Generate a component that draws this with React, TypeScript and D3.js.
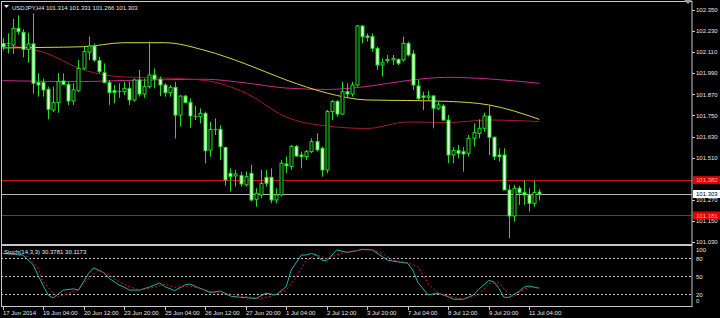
import React from 'react';
import * as d3 from 'd3';

const dateIdx = [0, 8, 16, 24, 32, 40, 48, 56, 64, 72, 80, 88, 96, 104];
const dateLabels = ['17 Jun 2014', '19 Jun 04:00', '20 Jun 12:00', '23 Jun 20:00', '25 Jun 04:00', '26 Jun 12:00', '27 Jun 20:00', '1 Jul 04:00', '2 Jul 12:00', '3 Jul 20:00', '7 Jul 04:00', '8 Jul 12:00', '9 Jul 20:00', '11 Jul 04:00'];
const priceTicks = [102.35, 102.23, 102.11, 101.99, 101.87, 101.75, 101.63, 101.51, 101.27, 101.15, 101.03];
const stochTicks = [100, 80, 50, 20, 0];
const stochLevels = [80, 50, 20];

const opens = [102.160,102.157,102.151,102.246,102.223,102.126,102.157,101.937,101.937,101.899,101.781,101.823,101.946,101.927,101.832,101.890,102.018,102.110,102.145,102.062,101.993,101.937,101.891,101.890,101.885,101.904,101.838,101.952,101.872,101.914,101.980,101.956,101.923,101.880,101.910,101.752,101.860,101.823,101.748,101.743,101.762,101.553,101.671,101.671,101.568,101.421,101.406,101.408,101.355,101.421,101.273,101.298,101.398,101.398,101.269,101.298,101.474,101.459,101.573,101.525,101.516,101.544,101.601,101.563,101.440,101.772,101.829,101.758,101.885,101.872,101.923,102.259,102.202,102.198,102.132,102.037,102.062,102.066,102.069,102.066,102.160,102.100,101.918,101.861,101.853,101.861,101.791,101.804,101.724,101.525,101.550,101.544,101.535,101.620,101.648,101.677,101.747,101.626,101.525,101.525,101.326,101.178,101.336,101.311,101.298,101.250,101.314];
const highs = [102.190,102.217,102.300,102.320,102.240,102.220,102.330,101.990,101.960,101.914,101.914,101.990,101.990,101.940,101.933,102.065,102.141,102.198,102.160,102.084,102.046,101.952,101.923,101.933,101.942,101.942,101.960,102.010,101.960,102.170,102.018,101.971,101.933,101.923,101.940,101.866,101.866,101.847,101.804,101.790,101.771,101.714,101.733,101.695,101.572,101.449,101.440,101.430,101.430,101.468,101.336,101.440,101.440,101.449,101.336,101.497,101.516,101.582,101.582,101.544,101.554,101.620,101.648,101.573,101.781,101.838,101.838,101.942,101.933,101.942,102.265,102.265,102.217,102.217,102.141,102.075,102.094,102.094,102.075,102.198,102.170,102.122,101.952,101.885,101.891,101.866,101.829,101.815,101.753,101.569,101.582,101.569,101.639,101.705,101.728,101.766,101.810,101.630,101.563,101.563,101.355,101.355,101.349,101.379,101.336,101.379,101.331];
const lows = [102.120,102.103,102.100,102.210,102.080,102.050,101.875,101.857,101.857,101.728,101.770,101.765,101.923,101.810,101.810,101.885,102.009,102.065,102.056,101.990,101.933,101.810,101.820,101.850,101.866,101.810,101.828,101.857,101.850,101.904,101.904,101.860,101.857,101.857,101.619,101.686,101.819,101.680,101.724,101.705,101.477,101.515,101.639,101.496,101.350,101.317,101.345,101.345,101.345,101.260,101.231,101.279,101.345,101.250,101.250,101.288,101.421,101.440,101.516,101.449,101.497,101.535,101.544,101.402,101.421,101.724,101.743,101.753,101.847,101.857,101.914,102.160,102.170,102.113,102.009,101.971,102.047,102.037,102.037,102.056,102.085,101.895,101.838,101.781,101.838,101.677,101.781,101.720,101.478,101.478,101.506,101.430,101.516,101.573,101.620,101.658,101.525,101.497,101.487,101.326,101.051,101.146,101.241,101.241,101.203,101.231,101.266];
const closes = [102.140,102.160,102.246,102.227,102.126,102.157,101.933,101.923,101.895,101.785,101.823,101.942,101.927,101.832,101.895,102.018,102.113,102.145,102.065,101.999,101.937,101.880,101.880,101.885,101.904,101.838,101.952,101.872,101.914,101.980,101.956,101.923,101.880,101.910,101.752,101.860,101.823,101.747,101.743,101.762,101.549,101.671,101.667,101.572,101.383,101.402,101.417,101.360,101.402,101.269,101.307,101.364,101.364,101.269,101.298,101.478,101.463,101.573,101.519,101.516,101.544,101.601,101.554,101.440,101.772,101.829,101.758,101.885,101.872,101.923,102.259,102.198,102.194,102.132,102.037,102.050,102.069,102.075,102.047,102.160,102.094,101.923,101.847,101.853,101.861,101.791,101.810,101.724,101.525,101.550,101.535,101.531,101.620,101.652,101.677,101.747,101.626,101.516,101.516,101.326,101.178,101.336,101.311,101.298,101.250,101.311,101.303];

const maIdx = [0, 8, 16, 24, 32, 40, 48, 56, 64, 72, 80, 88, 96, 106];
const maYellow = [102.134,102.137,102.141,102.164,102.164,102.120,102.043,101.952,101.878,101.838,101.835,101.830,101.810,101.728];
const maMagenta = [101.948,101.944,101.943,101.949,101.953,101.956,101.935,101.906,101.898,101.915,101.949,101.967,101.958,101.933];
const maDarkRed = [102.151,102.111,102.009,101.969,101.963,101.949,101.878,101.741,101.690,101.676,101.713,101.710,101.724,101.715];

const kIdx = [0,4,6,7,8,9,10,12,14,15,16,17,18,20,21,23,24,25,27,29,31,32,34,36,37,39,41,43,45,47,50,52,54,56,57,59,60,61,62,63,64,66,68,70,71,73,75,76,78,80,81,82,84,86,88,89,91,93,94,96,97,98,99,100,102,103,104,105,106];
const kVal = [88,85.5,70,52,35,19,14,27,29,27,41,55,64,56,47,35.5,32,27,27,32,39,33,26,35.5,37,30,23,25.5,17,15,13,21.7,19,32.7,60.5,85.5,85.5,88,85.5,77,76,94,90,92.7,95,94,82.7,77,74,71.7,60.5,40,19,21.7,16,11.7,11.7,19,28,43,41,30,15,15,25,32,33.8,31.7,30.38];
const dIdx = [0,5,7,8,10,11,13,15,17,19,21,23,25,27,30,32,34,37,39,42,45,47,51,53,56,58,60,62,64,66,68,71,73,75,77,80,82,84,86,88,91,94,96,98,100,101,102,104,106];
const dVal = [89,83,64,41,22,16,21.7,28,46.7,60,52,41,32.7,27,31.7,37,31.7,33.8,30,22.7,20.5,17,13,17,27,49,77,85.5,80,85.5,91,94,94,88,77,72.7,66,38,21.7,17,11.7,19,38,39,20,16,24,31.7,30.12];

const redLevels = [101.382, 101.181];
const bidLevel = 101.303;

const FONT = "'Liberation Sans', Arial, sans-serif";
const AXIS_X = 692;

export default function App() {
  const x = d3.scaleLinear().domain([0, 106]).range([2.5, 539.4]);
  const y = d3.scaleLinear().domain([101.03, 102.35]).range([242, 10]);
  const ys = d3.scaleLinear().domain([0, 100]).range([306.3, 246.3]);
  const cx = (i: number) => Math.round(x(i)) + 0.5;

  const maLine = (vals: number[]) =>
    d3.line<number>().x((_, k) => x(maIdx[k])).y((v) => y(v)).curve(d3.curveMonotoneX)(vals) || '';
  const stLine = (idx: number[], vals: number[]) =>
    d3.line<number>().x((_, k) => x(idx[k])).y((v) => ys(v)).curve(d3.curveLinear)(vals) || '';

  const fmt = d3.format('.3f');

  return (
    <svg width={720} height={318} style={{ position: 'fixed', left: 0, top: 0, background: '#000' }} fontFamily={FONT}>
      <defs>
        <clipPath id="mainClip"><rect x={1} y={1} width={AXIS_X - 1} height={243} /></clipPath>
        <clipPath id="stClip"><rect x={1} y={246} width={AXIS_X - 1} height={61} /></clipPath>
      </defs>
      <rect x={0} y={0} width={720} height={318} fill="#000" />

      <g clipPath="url(#mainClip)">
        {/* MAs */}
        <path d={maLine(maMagenta)} fill="none" stroke="#c82a88" strokeWidth={1} />
        <path d={maLine(maDarkRed)} fill="none" stroke="#a8182c" strokeWidth={1} />
        <path d={maLine(maYellow)} fill="none" stroke="#d6d640" strokeWidth={1} />
        {/* horizontal levels */}
        {redLevels.map((v) => (
          <line key={v} x1={1} x2={AXIS_X} y1={Math.round(y(v)) + 0.5} y2={Math.round(y(v)) + 0.5} stroke="#c81414" strokeWidth={1} />
        ))}
        <line x1={1} x2={AXIS_X} y1={Math.round(y(bidLevel)) + 0.5} y2={Math.round(y(bidLevel)) + 0.5} stroke="#b4b4b4" strokeWidth={1} />
        {/* candles */}
        {opens.map((o, i) => {
          const c = closes[i];
          const X = cx(i);
          const top = y(Math.max(o, c));
          const bot = y(Math.min(o, c));
          const bull = c > o;
          return (
            <g key={i}>
              <line x1={X} x2={X} y1={y(highs[i])} y2={y(lows[i])} stroke="#22dd22" strokeWidth={1} />
              {bot - top < 1.2 ? (
                <line x1={X - 2} x2={X + 2} y1={(top + bot) / 2} y2={(top + bot) / 2} stroke="#22dd22" strokeWidth={1} />
              ) : (
                <rect x={X - 1.5} y={top} width={3} height={bot - top} fill={bull ? '#000' : '#e8ffe8'} stroke="#22dd22" strokeWidth={1} />
              )}
            </g>
          );
        })}
      </g>

      {/* stochastic */}
      <g clipPath="url(#stClip)">
        {stochLevels.map((v) => (
          <line key={v} x1={1} x2={AXIS_X} y1={Math.round(ys(v)) + 0.5} y2={Math.round(ys(v)) + 0.5} stroke="#c8c8c8" strokeWidth={1} strokeDasharray="2,2" />
        ))}
        <path d={stLine(kIdx, kVal)} fill="none" stroke="#20b2aa" strokeWidth={1} />
        <path d={stLine(dIdx, dVal)} fill="none" stroke="#e01818" strokeWidth={1} strokeDasharray="2,2" />
      </g>

      {/* frames */}
      <rect x={1.5} y={1.5} width={AXIS_X - 1.5} height={305} fill="none" stroke="#c8c8c8" strokeWidth={1} />
      <rect x={1} y={244} width={AXIS_X - 1} height={2} fill="#c8c8c8" />
      <path d="M684,0 L692,0 L688,4 Z" fill="#9a9a9a" />

      {/* price axis */}
      {priceTicks.map((v) => (
        <g key={v}>
          <line x1={AXIS_X} x2={AXIS_X + 3} y1={Math.round(y(v)) + 0.5} y2={Math.round(y(v)) + 0.5} stroke="#c8c8c8" />
          <text x={AXIS_X + 4} y={y(v) + 2.2} fontSize={6} fill="#e6e6e6">{fmt(v)}</text>
        </g>
      ))}
      {redLevels.map((v) => (
        <g key={v}>
          <rect x={AXIS_X + 1} y={y(v) - 4} width={27} height={8} fill="#e00000" />
          <text x={AXIS_X + 4} y={y(v) + 2.2} fontSize={6} fill="#f2b4b4">{fmt(v)}</text>
        </g>
      ))}
      <rect x={AXIS_X + 1} y={y(bidLevel) - 4} width={27} height={8} fill="#ffffff" />
      <text x={AXIS_X + 4} y={y(bidLevel) + 2.2} fontSize={6} fill="#000">{fmt(bidLevel)}</text>

      {/* stoch axis */}
      {stochTicks.map((v) => {
        const yy = Math.min(Math.max(ys(v), 250), 301);
        return (
          <text key={v} x={AXIS_X + 4} y={yy + 2.2} fontSize={6} fill="#e6e6e6">{v}</text>
        );
      })}

      {/* date axis */}
      {dateIdx.map((idx, k) => (
        <g key={idx}>
          <line x1={cx(idx)} x2={cx(idx)} y1={307} y2={310} stroke="#c8c8c8" />
          <text x={cx(idx) - 0.5} y={315} fontSize={6} fill="#e6e6e6">{dateLabels[k]}</text>
        </g>
      ))}

      {/* titles */}
      <path d="M4,5 L9,5 L6.5,8 Z" fill="#e6e6e6" />
      <text x={12} y={9.5} fontSize={6} fill="#e6e6e6">USDJPY,H4  101.314 101.331 101.266 101.303</text>
      <text x={4} y={254} fontSize={6} fill="#e6e6e6">Stoch(14,3,3) 30.3781 30.1173</text>
    </svg>
  );
}
